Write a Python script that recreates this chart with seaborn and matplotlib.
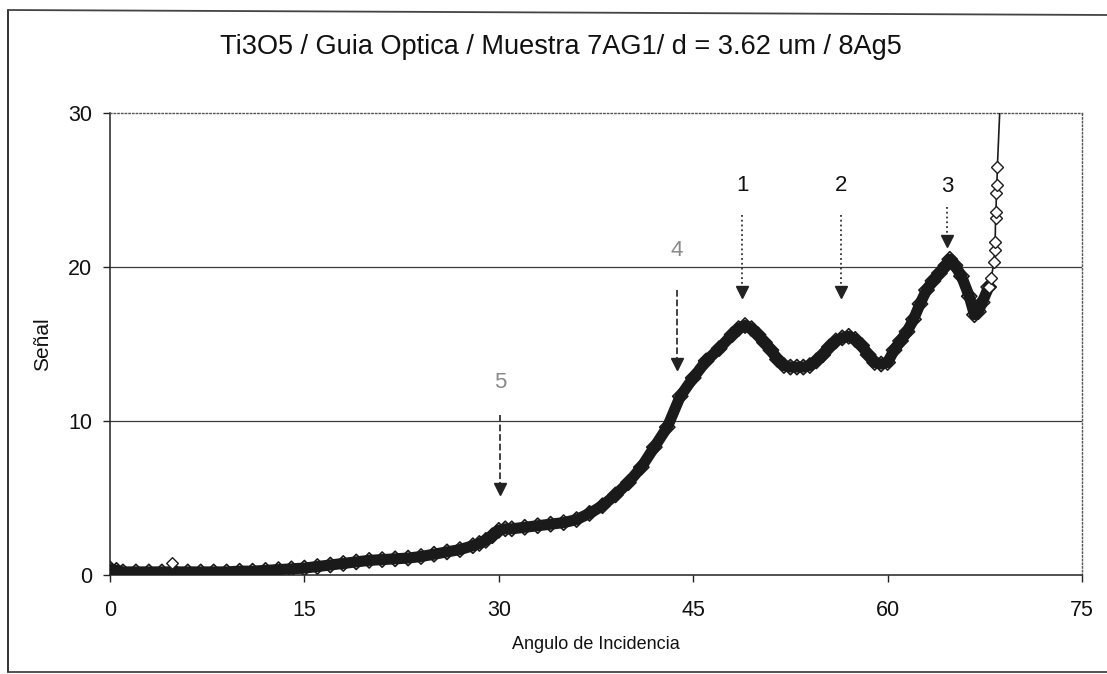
import matplotlib
matplotlib.use("Agg")
import matplotlib.pyplot as plt
import seaborn as sns
import pandas as pd
from matplotlib.lines import Line2D

# ---- data ----
band_x = [0, 0.5, 1, 2, 3, 4, 5, 6, 7, 8,
          9, 10, 11, 12, 13, 14, 15, 16, 17, 18,
          19, 20, 21, 22, 23, 24, 25, 26, 27, 28,
          28.5, 29, 29.5, 30, 30.5, 31, 32, 33, 34, 35,
          36, 37, 38, 39, 40, 41, 42, 43, 44, 45,
          46, 47, 48, 48.5, 49, 49.5, 50, 50.5, 51, 51.5,
          52, 52.5, 53, 53.5, 54, 54.5, 55, 55.5, 56, 56.5,
          57, 57.5, 58, 58.5, 59, 59.5, 60, 60.5, 61, 61.5,
          62, 62.5, 63, 63.5, 64, 64.5, 64.8, 65.2, 65.7, 66.3,
          66.7, 67.0, 67.3, 67.8]
band_y = [0.4, 0.3, 0.2, 0.2, 0.2, 0.2, 0.2, 0.2, 0.2, 0.2,
          0.2, 0.25, 0.25, 0.3, 0.35, 0.4, 0.45, 0.55, 0.65, 0.75,
          0.85, 0.95, 1.0, 1.05, 1.1, 1.2, 1.35, 1.5, 1.65, 1.9,
          2.05, 2.25, 2.55, 2.9, 3.0, 3.0, 3.1, 3.2, 3.3, 3.4,
          3.6, 4.0, 4.5, 5.2, 6.0, 7.0, 8.3, 9.6, 11.6, 12.8,
          13.9, 14.7, 15.6, 16.0, 16.2, 16.0, 15.6, 15.1, 14.6, 14.0,
          13.6, 13.5, 13.5, 13.5, 13.6, 13.9, 14.3, 14.8, 15.2, 15.4,
          15.5, 15.3, 14.9, 14.3, 13.8, 13.7, 13.8, 14.6, 15.2, 15.8,
          16.6, 17.6, 18.5, 19.1, 19.6, 20.1, 20.5, 20.1, 19.4, 18.1,
          16.9, 17.1, 17.7, 18.7]

spike_x = [67.8, 68.0, 68.2, 68.27, 68.3, 68.33, 68.36, 68.4, 68.43, 68.47, 68.75]
spike_y = [18.7, 19.3, 20.3, 21.1, 21.6, 23.2, 23.6, 24.8, 25.3, 26.5, 32.0]

outlier_x = [4.8]
outlier_y = [0.75]

arrow_labels = ["1", "2", "3", "4", "5"]
arrow_x = [48.8, 56.4, 64.6, 43.75, 30.1]
arrow_top = [23.4, 23.4, 23.9, 18.5, 10.4]
arrow_tip = [18.0, 18.0, 21.3, 13.3, 5.2]
label_y = [25.3, 25.3, 25.2, 21.1, 12.5]
label_colors = ["#111111", "#111111", "#111111", "#8a8a8a", "#8a8a8a"]
arrow_styles = [":", ":", ":", "--", "--"]

x_ticks = [0, 15, 30, 45, 60, 75]
y_ticks = [0, 10, 20, 30]

title = "Ti3O5 / Guia Optica / Muestra 7AG1/ d = 3.62 um / 8Ag5"
x_label = "Angulo de Incidencia"
y_label = "Señal"

# ---- figure ----
sns.set_theme(style="white")
plt.rcParams["font.family"] = ["Liberation Sans", "DejaVu Sans"]

W, H = 1107, 674
fig = plt.figure(figsize=(W / 100, H / 100), dpi=100)
ax = fig.add_axes([110 / W, 1 - 575 / H, (1082 - 110) / W, (575 - 113) / H])

band = pd.DataFrame({"x": band_x, "y": band_y})
spike = pd.DataFrame({"x": spike_x, "y": spike_y})
outl = pd.DataFrame({"x": outlier_x, "y": outlier_y})

# horizontal grid lines
for yv in y_ticks[1:3]:
    ax.axhline(yv, color="#3a3a3a", lw=0.9, zorder=1)

sns.lineplot(data=band, x="x", y="y", ax=ax, color="#1a1a1a", lw=8,
             sort=False, zorder=3, solid_capstyle="round")
sns.scatterplot(data=band, x="x", y="y", ax=ax, marker="D", s=60,
                facecolor="none", edgecolor="#1a1a1a", linewidth=1.2, zorder=4)
sns.lineplot(data=spike, x="x", y="y", ax=ax, color="#1c1c1c", lw=1.2,
             sort=False, marker="D", markersize=6, markerfacecolor="white",
             markeredgecolor="#1c1c1c", markeredgewidth=1.0, zorder=5)
sns.scatterplot(data=outl, x="x", y="y", ax=ax, marker="D", s=35,
                facecolor="white", edgecolor="#1c1c1c", linewidth=1.0, zorder=5)

# arrows with labels
for lab, xa, yt, yb, ly, lc, ls in zip(arrow_labels, arrow_x, arrow_top, arrow_tip,
                                        label_y, label_colors, arrow_styles):
    ax.plot([xa, xa], [yt, yb + 0.6], ls=ls, color="#333333", lw=1.3, zorder=6)
    ax.plot([xa], [yb + 0.38], marker="v", ms=9, color="#222222", mec="#222222", zorder=6)
    ax.text(xa, ly, lab, ha="center", va="center", fontsize=16, color=lc, zorder=6)

ax.set_xlim(0, 75)
ax.set_ylim(0, 30)
ax.set_xticks(x_ticks)
ax.set_yticks(y_ticks)
ax.tick_params(axis="both", direction="out", length=5, width=1, color="#222222",
               labelsize=15.5, labelcolor="#111111")
ax.tick_params(axis="x", pad=13, bottom=True)
ax.tick_params(axis="y", pad=8, left=True)
ax.set_xlabel(x_label, fontsize=13, color="#111111", labelpad=11)
ax.set_ylabel(y_label, fontsize=15, color="#111111", labelpad=11)

for s in ["left", "bottom"]:
    ax.spines[s].set_color("#222222")
    ax.spines[s].set_linewidth(1.1)
for s in ["top", "right"]:
    ax.spines[s].set_color("#555555")
    ax.spines[s].set_linewidth(1.0)
    ax.spines[s].set_linestyle(":")
ax.grid(False)

fig.text(0.507, 1 - 47 / H, title, ha="center", va="center", fontsize=19.5, color="#111111")

# scanned page frame
fig.add_artist(Line2D([8 / W, 8 / W], [1 - 10 / H, 1 - 672 / H], color="#222222", lw=1.3,
                      transform=fig.transFigure))
fig.add_artist(Line2D([8 / W, 1.0], [1 - 10 / H, 1 - 15 / H], color="#444444", lw=1.3,
                      transform=fig.transFigure))
fig.add_artist(Line2D([8 / W, 1.0], [1 - 672 / H, 1 - 672 / H], color="#444444", lw=1.3,
                      transform=fig.transFigure))

fig.savefig("out.png", dpi=100)
